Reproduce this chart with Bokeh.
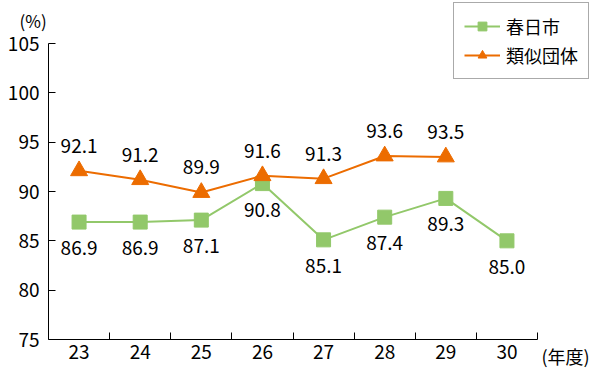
from bokeh.plotting import figure
from bokeh.models import (Range1d, FixedTicker, Legend, LegendItem, Label,
                          ColumnDataSource, LabelSet)
from bokeh.core.properties import value
from bokeh.embed import file_html
from bokeh.resources import INLINE

years = ["23", "24", "25", "26", "27", "28", "29", "30"]
kasugai = [86.9, 86.9, 87.1, 90.8, 85.1, 87.4, 89.3, 85.0]
ruiji = [92.1, 91.2, 89.9, 91.6, 91.3, 93.6, 93.5]
y_ticks = [75, 80, 85, 90, 95, 100, 105]
name_a = "春日市"
name_b = "類似団体"
y_unit = "(%)"
x_unit = "(年度)"

GREEN = "#92C86A"
ORANGE = "#EC6C00"
FONT = "Noto Sans CJK JP"

W, H = 600, 370
# plot area inside the canvas (pixels)
LEFT, RIGHT, TOP, BOTTOM = 48, 537, 43, 339
n = len(years)
ymin, ymax = y_ticks[0], y_ticks[-1]
px_x = (RIGHT - LEFT) / n
px_y = (BOTTOM - TOP) / (ymax - ymin)

x_range = Range1d(-LEFT / px_x, (W - LEFT) / px_x)
y_range = Range1d(ymin - (H - BOTTOM) / px_y, ymin + BOTTOM / px_y)

xa = [i + 0.5 for i in range(len(kasugai))]
xb = [i + 0.5 for i in range(len(ruiji))]

src_a = ColumnDataSource(dict(x=xa, y=kasugai, t=[f"{v:.1f}" for v in kasugai]))
src_b = ColumnDataSource(dict(x=xb, y=ruiji, t=[f"{v:.1f}" for v in ruiji]))

p = figure(width=W, height=H, output_backend="svg", toolbar_location=None,
           x_range=x_range, y_range=y_range,
           min_border_left=0, min_border_right=0, min_border_top=0,
           min_border_bottom=0)
p.outline_line_color = None
p.grid.visible = False
p.background_fill_color = "white"
p.border_fill_color = "white"

p.xaxis.fixed_location = ymin
p.xaxis.bounds = (0, n)
p.xaxis.ticker = FixedTicker(ticks=xa, minor_ticks=list(range(1, n + 1)))
p.xaxis.major_label_overrides = {x: y for x, y in zip(xa, years)}
p.xaxis.major_tick_in = 0
p.xaxis.major_tick_out = 0
p.xaxis.minor_tick_in = 7
p.xaxis.minor_tick_out = 0
p.xaxis.major_label_standoff = 5

p.yaxis.fixed_location = 0
p.yaxis.bounds = (ymin, ymax)
p.yaxis.ticker = FixedTicker(ticks=y_ticks, minor_ticks=[])
p.yaxis.major_tick_in = 7
p.yaxis.major_tick_out = 0
p.yaxis.major_label_standoff = 9

for ax in (p.xaxis, p.yaxis):
    ax.axis_line_color = "black"
    ax.axis_line_width = 1
    ax.major_tick_line_color = "black"
    ax.minor_tick_line_color = "black"
    ax.major_label_text_font = FONT
    ax.major_label_text_font_size = "19px"
    ax.major_label_text_color = "black"

la = p.line("x", "y", source=src_a, line_color=GREEN, line_width=2)
ma = p.scatter("x", "y", source=src_a, marker="square", size=14,
               fill_color=GREEN, line_color=GREEN)
lb = p.line("x", "y", source=src_b, line_color=ORANGE, line_width=2)
mb = p.scatter("x", "y", source=src_b, marker="triangle", size=17,
               fill_color=ORANGE, line_color=ORANGE)

p.add_layout(LabelSet(x="x", y="y", text="t", source=src_a, y_offset=-26,
                      text_align="center", text_baseline="middle",
                      text_font=value(FONT), text_font_size="19px",
                      text_color="black"))
p.add_layout(LabelSet(x="x", y="y", text="t", source=src_b, y_offset=25,
                      text_align="center", text_baseline="middle",
                      text_font=value(FONT), text_font_size="19px",
                      text_color="black"))

p.add_layout(Label(x=0, y=ymax, x_offset=-29, y_offset=23, text=y_unit,
                   text_font=FONT, text_font_size="17px",
                   text_baseline="middle", text_color="black"))
p.add_layout(Label(x=n, y=ymin, x_offset=4, y_offset=-16, text=x_unit,
                   text_font=FONT, text_font_size="18px",
                   text_baseline="middle", text_color="black"))

legend = Legend(items=[LegendItem(label=name_a, renderers=[la, ma]),
                       LegendItem(label=name_b, renderers=[lb, mb])],
                location=(453, H - 79))
legend.label_text_font = FONT
legend.label_text_font_size = "18px"
legend.label_text_color = "black"
legend.border_line_color = "#555555"
legend.border_line_width = 1
legend.glyph_width = 36
legend.glyph_height = 22
legend.label_height = 22
legend.padding = 10
legend.spacing = 3
legend.margin = 0
legend.label_standoff = 6
legend.background_fill_alpha = 1
p.add_layout(legend)

open("out.html", "w").write(file_html(p, INLINE))
